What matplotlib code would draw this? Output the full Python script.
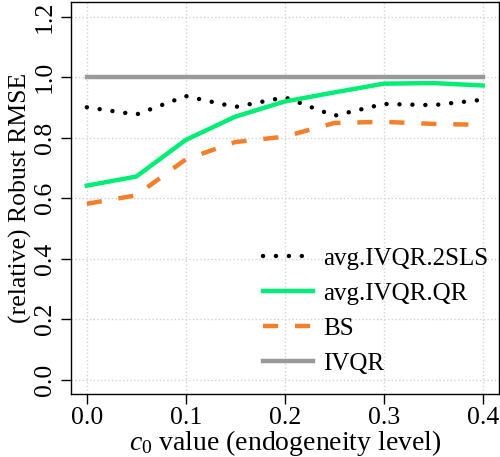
import matplotlib
matplotlib.use('Agg')
import matplotlib.pyplot as plt

plt.rcParams['font.family'] = ['Liberation Serif', 'DejaVu Serif']
plt.rcParams['mathtext.fontset'] = 'custom'
plt.rcParams['mathtext.rm'] = 'Liberation Serif'
plt.rcParams['mathtext.it'] = 'Liberation Serif:italic'

# endogeneity levels
c0 = [0.0, 0.05, 0.10, 0.15, 0.20, 0.25, 0.30, 0.35, 0.40]

# relative robust RMSE per method
avg_ivqr_2sls = [0.901, 0.877, 0.938, 0.902, 0.934, 0.873, 0.912, 0.908, 0.926]
avg_ivqr_qr = [0.642, 0.672, 0.793, 0.870, 0.920, 0.950, 0.979, 0.981, 0.973]
bs = [0.582, 0.610, 0.729, 0.786, 0.804, 0.849, 0.853, 0.846, 0.843]
ivqr = [1.0, 1.0, 1.0, 1.0, 1.0, 1.0, 1.0, 1.0, 1.0]

fig = plt.figure(figsize=(5.0, 4.57), dpi=100)
ax = fig.add_axes([0.142, 0.137, 0.855, 0.858])

ax.grid(True, color='#d3d3d3', linestyle=':', linewidth=1.0)
ax.set_axisbelow(True)

ax.plot(c0, avg_ivqr_2sls, color='black', linewidth=3.2,
        linestyle=(0, (0.01, 2.9)), dash_capstyle='round', label='avg.IVQR.2SLS')
ax.plot(c0, avg_ivqr_qr, color='#00EE76', linewidth=3.2, label='avg.IVQR.QR')
ax.plot(c0, bs, color='#F47F2A', linewidth=3.2,
        linestyle=(0, (3.4, 3.8)), label='BS')
ax.plot(c0, ivqr, color='#999999', linewidth=3.2, label='IVQR')

ax.set_xlim(-0.016, 0.416)
ax.set_ylim(-0.048, 1.248)
ax.set_xticks([0.0, 0.1, 0.2, 0.3, 0.4])
ax.set_xticklabels(['0.0', '0.1', '0.2', '0.3', '0.4'])
ax.set_yticks([0.0, 0.2, 0.4, 0.6, 0.8, 1.0, 1.2])
ax.set_yticklabels(['0.0', '0.2', '0.4', '0.6', '0.8', '1.0', '1.2'],
                   rotation=90, va='center')
ax.tick_params(direction='out', length=7, width=1, labelsize=18.5)
ax.tick_params(axis='x', pad=2)
ax.tick_params(axis='y', pad=4)

for s in ax.spines.values():
    s.set_linewidth(1.0)

ax.set_xlabel('$c_0$ value (endogeneity level)', fontsize=20, labelpad=-1)
ax.set_ylabel('(relative) Robust RMSE', fontsize=18.5, labelpad=1)

ax.legend(loc='upper left', bbox_to_anchor=(0.45, 0.375), frameon=False,
          fontsize=18, handlelength=2.0, handletextpad=0.4,
          labelspacing=0.5, borderpad=0, borderaxespad=0)

fig.savefig('out.png', dpi=100)
